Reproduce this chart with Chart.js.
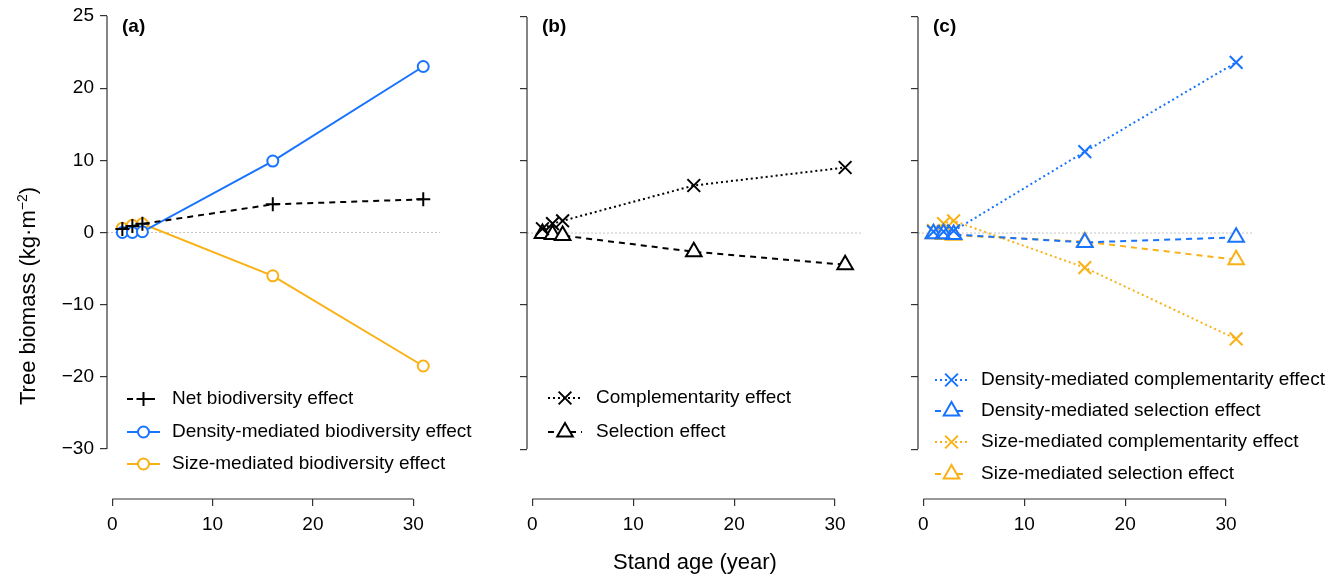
<!DOCTYPE html>
<html>
<head>
<meta charset="utf-8">
<script src="https://cdn.jsdelivr.net/npm/chart.js@4/dist/chart.umd.min.js"></script>
<style>
  html, body { margin: 0; padding: 0; background: #fff; }
  #wrap { position: relative; width: 1341px; height: 577px; overflow: hidden; font-family: "Liberation Sans", Arial, sans-serif; }
  canvas { position: absolute; top: 0; }
  .ttl { position: absolute; font-size: 22px; color: #000; text-align: center; line-height: 26px; white-space: nowrap; }
  .ttl sup { font-size: 14px; line-height: 0; }
</style>
</head>
<body>
<div id="wrap">
  <canvas id="ca" width="500" height="577" style="left:0px"></canvas>
  <canvas id="cb" width="380" height="577" style="left:500px"></canvas>
  <canvas id="cc" width="461" height="577" style="left:880px"></canvas>
  <div class="ttl" style="left:595px; top:549px; width:200px;">Stand age (year)</div>
  <div class="ttl" style="left:-122px; top:283px; width:300px; transform:rotate(-90deg);">Tree biomass (kg·m<sup>−2</sup>)</div>
</div>
<script>
// ---------------- data ----------------
const years = [1, 2, 3, 16, 31];
// panel (a)
const netEffect      = [0.5, 0.9, 1.2, 3.9, 4.6];
const densityEffect  = [0.0, 0.0, 0.1, 9.9, 23.0];
const sizeEffect     = [0.6, 1.0, 1.2, -6.0, -18.5];
// panel (b)
const complementarity = [0.6, 1.3, 1.7, 6.6, 9.1];
const selection       = [-0.05, -0.2, -0.35, -2.6, -4.4];
// panel (c)
const densityComp = [0.2, 0.2, 0.3, 11.3, 23.7];
const densitySel  = [-0.1, -0.1, -0.2, -1.3, -0.6];
const sizeComp    = [0.35, 1.3, 1.7, -4.8, -14.7];
const sizeSel     = [-0.1, -0.2, -0.3, -1.2, -3.7];
// ticks
const yTickValues = [-30, -20, -10, 0, 10, 20, 30];
const yTickLabels = ['−30', '−20', '−10', '0', '10', '20', '25'];
const xTickValues = [0, 10, 20, 30];
const xTickLabels = ['0', '10', '20', '30'];
const panelLabels = ['(a)', '(b)', '(c)'];

// ---------------- styles ----------------
const BLUE = '#1873ff';
const ORANGE = '#f9b115';
const BLACK = '#000000';
const AXIS = '#333333';
const FONT = '"Liberation Sans", Arial, sans-serif';
const DASH = [6, 5];
const DOT = [2, 3];

function pts(vals) { return years.map((x, i) => ({ x: x, y: vals[i] })); }

function ds(label, vals, color, dash, pstyle, radius) {
  return {
    label: label, data: pts(vals),
    borderColor: color, borderWidth: 2, borderDash: dash,
    pointStyle: pstyle, pointRadius: radius, pointBorderWidth: 2,
    pointBorderColor: color, pointBackgroundColor: '#ffffff',
    pointHoverRadius: radius, tension: 0, fill: false
  };
}

const rPlugin = {
  id: 'rstyle',
  beforeDatasetsDraw(chart) {
    const ctx = chart.ctx, a = chart.chartArea, ys = chart.scales.y;
    const y0 = ys.getPixelForValue(0);
    ctx.save();
    ctx.strokeStyle = '#c4c4c4'; ctx.lineWidth = 1; ctx.setLineDash([2, 2]);
    ctx.beginPath(); ctx.moveTo(a.left, y0); ctx.lineTo(a.right, y0); ctx.stroke();
    ctx.restore();
  },
  afterDraw(chart, args, opts) {
    const ctx = chart.ctx, a = chart.chartArea, ys = chart.scales.y, xs = chart.scales.x;
    ctx.save();
    ctx.strokeStyle = AXIS; ctx.lineWidth = 1.2; ctx.setLineDash([]);
    ctx.beginPath();
    ctx.moveTo(a.left, ys.getPixelForValue(yTickValues[0]));
    ctx.lineTo(a.left, ys.getPixelForValue(yTickValues[yTickValues.length - 1]));
    ctx.stroke();
    ctx.beginPath();
    ctx.moveTo(xs.getPixelForValue(xTickValues[0]), a.bottom);
    ctx.lineTo(xs.getPixelForValue(xTickValues[xTickValues.length - 1]), a.bottom);
    ctx.stroke();
    ctx.fillStyle = '#000'; ctx.font = 'bold 19px ' + FONT;
    ctx.textBaseline = 'middle'; ctx.textAlign = 'left';
    ctx.fillText(opts.panel, a.left + 15, 27);
    const lg = opts.legend;
    ctx.font = '19px ' + FONT;
    chart.data.datasets.forEach((d, i) => {
      const y = lg.rows[i];
      const x0 = a.left + lg.dx, x1 = x0 + lg.len, xm = (x0 + x1) / 2;
      ctx.strokeStyle = d.borderColor; ctx.lineWidth = 2; ctx.setLineDash(d.borderDash || []);
      ctx.beginPath(); ctx.moveTo(x0, y); ctx.lineTo(x1, y); ctx.stroke();
      ctx.setLineDash([]);
      ctx.fillStyle = '#ffffff'; ctx.strokeStyle = d.borderColor; ctx.lineWidth = 2;
      Chart.helpers.drawPoint(ctx, { pointStyle: d.pointStyle, radius: d.pointRadius, borderWidth: 2, rotation: 0 }, xm, y);
      ctx.fillStyle = '#000';
      ctx.fillText(d.label, a.left + lg.tdx, y);
    });
    ctx.restore();
  }
};

function makeChart(id, datasets, yWidth, padRight, panel, legend, showYLabels) {
  return new Chart(document.getElementById(id), {
    type: 'line',
    data: { datasets: datasets },
    options: {
      responsive: false, animation: false, events: [],
      layout: { padding: { left: 0, right: padRight, top: 10, bottom: 0 } },
      plugins: { legend: { display: false }, tooltip: { enabled: false },
                 rstyle: { panel: panel, legend: legend } },
      scales: {
        x: {
          type: 'linear', min: -0.53, max: 32.67,
          afterBuildTicks: s => { s.ticks = xTickValues.map(v => ({ value: v })); },
          afterFit: s => { s.height = 78; s.paddingLeft = 0; s.paddingRight = 0; },
          ticks: { font: { family: FONT, size: 19 }, color: '#000', padding: 7, maxRotation: 0,
                   autoSkip: false, callback: (v) => xTickLabels[xTickValues.indexOf(v)] },
          grid: { drawOnChartArea: false, drawTicks: true, tickLength: 7, color: AXIS, lineWidth: 1.2 },
          border: { display: false }
        },
        y: {
          type: 'linear', min: -36.928, max: 30.831,
          afterBuildTicks: s => { s.ticks = yTickValues.map(v => ({ value: v })); },
          afterFit: s => { s.width = yWidth; s.paddingTop = 0; s.paddingBottom = 0; },
          ticks: { font: { family: FONT, size: 19 }, color: '#000', padding: 6, autoSkip: false,
                   callback: (v) => showYLabels ? yTickLabels[yTickValues.indexOf(v)] : '' },
          grid: { drawOnChartArea: false, drawTicks: true, tickLength: 7, color: AXIS, lineWidth: 1.2 },
          border: { display: false }
        }
      }
    },
    plugins: [rPlugin]
  });
}

makeChart('ca', [
  ds('Net biodiversity effect', netEffect, BLACK, DASH, 'cross', 7),
  ds('Density-mediated biodiversity effect', densityEffect, BLUE, [], 'circle', 5.5),
  ds('Size-mediated biodiversity effect', sizeEffect, ORANGE, [], 'circle', 5.5)
], 107, 60, panelLabels[0], { dx: 20, len: 33, tdx: 65, rows: [399, 432, 464] }, true);

makeChart('cb', [
  ds('Complementarity effect', complementarity, BLACK, DOT, 'crossRot', 9),
  ds('Selection effect', selection, BLACK, DASH, 'triangle', 9)
], 27, 18, panelLabels[1], { dx: 21, len: 34, tdx: 69, rows: [398, 432] }, false);

makeChart('cc', [
  ds('Density-mediated complementarity effect', densityComp, BLUE, DOT, 'crossRot', 9),
  ds('Density-mediated selection effect', densitySel, BLUE, DASH, 'triangle', 9),
  ds('Size-mediated complementarity effect', sizeComp, ORANGE, DOT, 'crossRot', 9),
  ds('Size-mediated selection effect', sizeSel, ORANGE, DASH, 'triangle', 9)
], 38, 88, panelLabels[2], { dx: 17, len: 33, tdx: 63, rows: [380, 411, 442, 474] }, false);
</script>
</body>
</html>
